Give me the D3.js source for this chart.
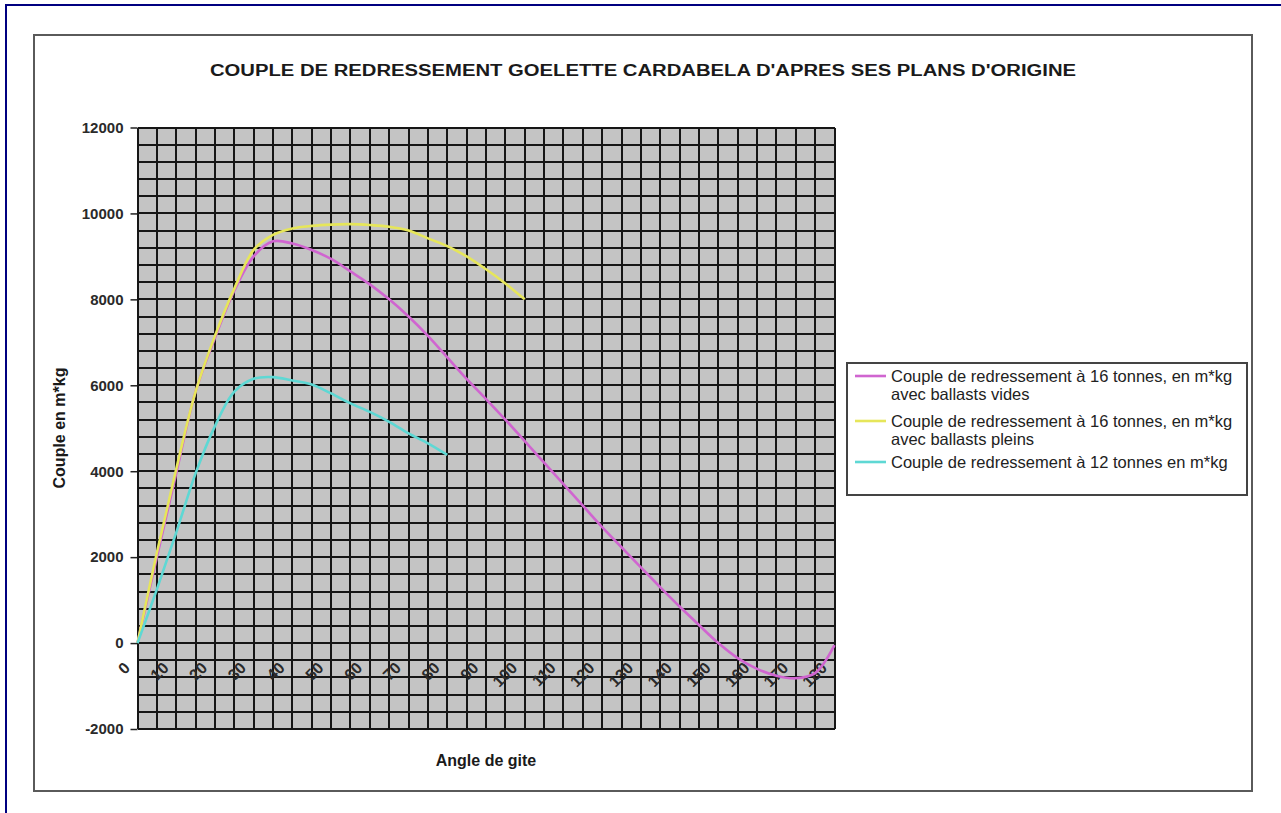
<!DOCTYPE html>
<html>
<head>
<meta charset="utf-8">
<script src="https://cdn.jsdelivr.net/npm/d3@7"></script>
<style>
  body { margin: 0; background: #fff; }
  svg { display: block; font-family: "Liberation Sans", Arial, sans-serif; }
  .grid line { stroke: #161616; stroke-width: 1.7px; shape-rendering: crispEdges; }
  .axis path { display: none; }
  .axis line { stroke: #222; stroke-width: 1.5px; }
  .axis text { font-size: 15px; font-weight: bold; fill: #2a2a2a; }
  .x.axis text { font-size: 16px; }
</style>
</head>
<body>
<div class="chart"></div>
<script>
// heel angles (degrees) and righting moments (m*kg)
var angles = [0, 5, 10, 15, 20, 25, 30, 35, 40, 45, 50, 55, 60, 65, 70, 75, 80, 85, 90,
              95, 100, 105, 110, 115, 120, 125, 130, 135, 140, 145, 150, 155, 160, 165, 170, 175, 180];

var videsValues = [0, 2000, 3950, 5850, 7100, 8200, 9000, 9350, 9300, 9150, 8940, 8650, 8350,
                   8000, 7600, 7150, 6650, 6150, 5680, 5200, 4700, 4200, 3700, 3200, 2700, 2230,
                   1760, 1300, 850, 420, 0, -350, -600, -760, -820, -700, -50];
var pleinsValues = [0, 2100, 4050, 5850, 7150, 8250, 9150, 9500, 9650, 9710, 9740, 9750, 9730,
                    9690, 9600, 9420, 9240, 9000, 8700, 8370, 8000];
var douzeValues = [0, 1250, 2570, 3950, 5050, 5850, 6150, 6190, 6110, 6020, 5810, 5580, 5380,
                   5150, 4880, 4650, 4380];

var seriesNames = [
    ["Couple de redressement à 16 tonnes, en m*kg", "avec ballasts vides"],
    ["Couple de redressement à 16 tonnes, en m*kg", "avec ballasts pleins"],
    ["Couple de redressement à 12 tonnes en m*kg"]
];
var seriesColors = ["#d065d0", "#e6e65a", "#5ed8d4"];

var yTickValues = [-2000, 0, 2000, 4000, 6000, 8000, 10000, 12000];
var yTickLabels = ["-2000", "0", "2000", "4000", "6000", "8000", "10000", "12000"];
var xTickValues = [0, 10, 20, 30, 40, 50, 60, 70, 80, 90, 100, 110, 120, 130, 140, 150, 160, 170, 180];
var yGridStep = 400;

var title = "COUPLE DE REDRESSEMENT GOELETTE CARDABELA D'APRES SES PLANS D'ORIGINE";

var W = 1281, H = 813;
var svg = d3.select(".chart").append("svg").attr("width", W).attr("height", H);

// outer frame + chart area
svg.append("rect").attr("x", 6).attr("y", 5).attr("width", W + 20).attr("height", H + 20)
    .attr("fill", "#fff").attr("stroke", "#000080").attr("stroke-width", 2);
svg.append("rect").attr("x", 34).attr("y", 35).attr("width", 1218).attr("height", 756)
    .attr("fill", "#fff").attr("stroke", "#5a5a5a").attr("stroke-width", 2);

var x = d3.scaleLinear().domain([0, 180]).range([137.5, 834.5]);
var y = d3.scaleLinear().domain([-2000, 12000]).range([729, 127.5]);

// plot area
svg.append("rect")
    .attr("x", x(0)).attr("y", y(12000))
    .attr("width", x(180) - x(0)).attr("height", y(-2000) - y(12000))
    .attr("fill", "#c4c4c4");

var yGrid = d3.range(-2000, 12001, yGridStep);
var grid = svg.append("g").attr("class", "grid");
grid.selectAll("line.h").data(yGrid).enter().append("line")
    .attr("x1", x(0)).attr("x2", x(180))
    .attr("y1", function(d) { return Math.round(y(d)); })
    .attr("y2", function(d) { return Math.round(y(d)); });
grid.selectAll("line.v").data(angles).enter().append("line")
    .attr("y1", y(12000)).attr("y2", y(-2000))
    .attr("x1", function(d) { return Math.round(x(d)); })
    .attr("x2", function(d) { return Math.round(x(d)); });

// axes
var yAxis = d3.axisLeft(y)
    .tickValues(yTickValues)
    .tickFormat(function(d, i) { return yTickLabels[i]; })
    .tickSize(7).tickPadding(7);
svg.append("g").attr("class", "y axis")
    .attr("transform", "translate(" + x(0) + ",0)")
    .call(yAxis);

var xAxis = d3.axisBottom(x).tickValues(xTickValues).tickSize(0);
var gx = svg.append("g").attr("class", "x axis")
    .attr("transform", "translate(0," + y(0) + ")")
    .call(xAxis);
gx.selectAll("text")
    .attr("x", 0).attr("y", 0).attr("dy", "0.35em")
    .style("text-anchor", "end")
    .attr("transform", "translate(-11,22) rotate(-45)");

// series (smoothed like the spreadsheet)
var line = d3.line()
    .x(function(d) { return x(d[0]); })
    .y(function(d) { return y(d[1]); })
    .curve(d3.curveCatmullRom.alpha(0.5));

[videsValues, pleinsValues, douzeValues].forEach(function(vals, i) {
    var pts = vals.map(function(v, j) { return [angles[j], v]; });
    svg.append("path").datum(pts)
        .attr("d", line)
        .attr("fill", "none")
        .attr("stroke", seriesColors[i])
        .attr("stroke-width", 2.6)
        .attr("stroke-linejoin", "round");
});

// titles
svg.append("text")
    .attr("x", 643).attr("y", 76)
    .attr("text-anchor", "middle")
    .style("font-size", "16px").style("font-weight", "bold").style("fill", "#1a1a1a")
    .attr("textLength", 866).attr("lengthAdjust", "spacingAndGlyphs")
    .text(title);

svg.append("text")
    .attr("transform", "translate(65,428) rotate(-90)")
    .attr("text-anchor", "middle")
    .style("font-size", "16px").style("font-weight", "bold").style("fill", "#1a1a1a")
    .text("Couple en m*kg");

svg.append("text")
    .attr("x", 486).attr("y", 766)
    .attr("text-anchor", "middle")
    .style("font-size", "16px").style("font-weight", "bold").style("fill", "#1a1a1a")
    .text("Angle de gite");

// legend
var legend = svg.append("g").attr("class", "legend");
legend.append("rect")
    .attr("x", 847).attr("y", 363).attr("width", 400).attr("height", 132)
    .attr("fill", "#fff").attr("stroke", "#444").attr("stroke-width", 2);

var entryY = [376, 421, 462];
seriesNames.forEach(function(lines, i) {
    var g = legend.append("g").attr("transform", "translate(0," + entryY[i] + ")");
    g.append("line").attr("x1", 855).attr("x2", 886).attr("y1", 0).attr("y2", 0)
        .attr("stroke", seriesColors[i]).attr("stroke-width", 2.6);
    lines.forEach(function(t, k) {
        g.append("text")
            .attr("x", 891).attr("y", k * 18).attr("dy", "0.36em")
            .style("font-size", "16.5px").style("fill", "#222")
            .text(t);
    });
});
</script>
</body>
</html>
